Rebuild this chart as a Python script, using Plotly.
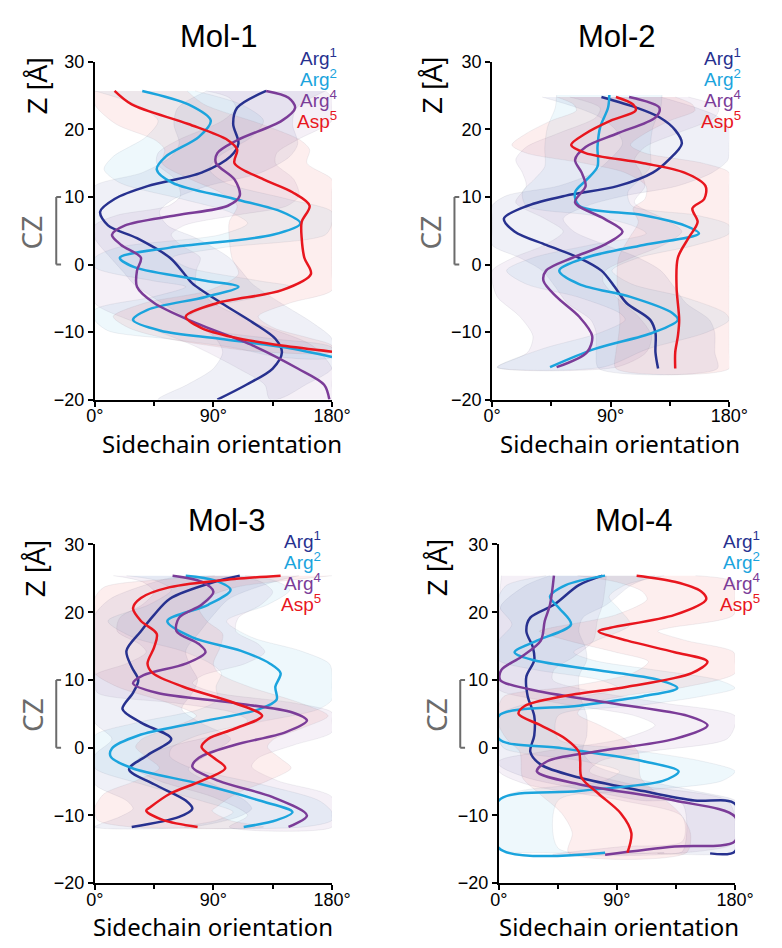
import plotly.graph_objects as go

W, H = 782, 948

NAMES = ["Arg<sup>1</sup>", "Arg<sup>2</sup>", "Arg<sup>4</sup>", "Asp<sup>5</sup>"]
COLORS = ["#27318f", "#1ba4dd", "#7b3c98", "#e8161e"]
BAND_RGB = ["39,49,143", "27,164,221", "123,60,152", "232,22,30"]
X_TICKS = [0, 90, 180]
X_TICKTEXT = ["0°", "90°", "180°"]
Y_TICKS = [-20, -10, 0, 10, 20, 30]
TITLES = ["Mol-1", "Mol-2", "Mol-3", "Mol-4"]

# ---------------- Mol-1 ----------------
M1_ARG1_Z = [25.7, 23.2, 20.8, 17.9, 16.0, 13.6, 11.6, 9.7, 7.8, 5.8, 3.9, 1.0, -1.4, -2.8, -5.7, -8.6, -11.0, -13.0, -15.4, -17.8, -20.0]
M1_ARG1_A = [130, 108, 105, 109, 103, 81, 40, 15, 4, 10, 32, 57, 68, 74, 96, 120, 137, 142, 135, 115, 93]
M1_ARG2_Z = [25.7, 23.7, 21.3, 18.9, 16.0, 14.1, 12.1, 9.7, 7.8, 6.1, 4.4, 2.5, 1.0, -0.4, -2.4, -3.3, -4.8, -6.7, -8.2, -9.8, -11.0, -12.3, -13.7]
M1_ARG2_A = [36, 71, 88, 79, 54, 47, 59, 106, 142, 156, 135, 57, 19, 30, 84, 109, 84, 40, 29, 50, 95, 145, 180]
M1_ARG4_Z = [25.7, 24.7, 23.2, 21.3, 18.4, 16.5, 15.0, 12.6, 10.2, 8.7, 7.3, 5.8, 4.4, 2.9, 1.0, -0.9, -3.3, -5.7, -8.6, -12.0, -15.4, -17.8, -20.0]
M1_ARG4_A = [130, 147, 152, 142, 108, 93, 92, 106, 110, 101, 62, 23, 13, 20, 35, 32, 32, 45, 76, 120, 154, 174, 178]
M1_ASP5_Z = [25.7, 23.7, 20.8, 18.4, 17.0, 15.0, 12.6, 10.7, 8.7, 6.3, 3.9, 1.0, -1.4, -3.8, -5.7, -7.7, -9.4, -10.8, -12.0, -12.9]
M1_ASP5_A = [15, 28, 71, 101, 108, 106, 128, 150, 163, 157, 157, 159, 164, 142, 93, 69, 81, 106, 142, 180]
M1_SD = [45, 40, 45, 55]

# ---------------- Mol-2 ----------------
M2_ARG1_Z = [24.8, 23.2, 21.8, 19.9, 17.9, 15.5, 13.6, 11.6, 10.2, 8.7, 6.8, 4.9, 2.9, 1.0, -0.9, -3.3, -5.7, -8.2, -10.1, -13.0, -15.4]
M2_ARG1_A = [83, 110, 127, 139, 144, 134, 122, 95, 56, 27, 9, 17, 41, 66, 83, 93, 102, 120, 124, 124, 126]
M2_ARG2_Z = [25.1, 23.2, 20.3, 17.4, 14.5, 12.6, 10.7, 8.7, 7.3, 5.8, 4.6, 2.9, 1.0, -0.9, -2.9, -4.8, -7.2, -8.2, -10.1, -12.5, -15.2]
M2_ARG2_A = [89, 88, 82, 80, 80, 72, 63, 66, 115, 146, 157, 115, 71, 51, 66, 105, 137, 141, 122, 78, 44]
M2_ARG4_Z = [24.8, 23.2, 21.8, 19.4, 17.4, 15.5, 13.6, 11.6, 9.2, 6.8, 4.9, 2.9, 1.0, -0.9, -2.4, -4.8, -7.7, -10.6, -13.0, -15.2]
M2_ARG4_A = [104, 127, 124, 95, 71, 63, 68, 71, 63, 85, 99, 85, 61, 41, 39, 49, 66, 76, 72, 49]
M2_ASP5_Z = [24.8, 23.7, 22.8, 21.3, 19.4, 17.7, 16.5, 15.0, 13.6, 11.6, 9.7, 8.3, 6.3, 3.9, 1.0, -3.3, -8.2, -10.6, -13.0, -15.4]
M2_ASP5_A = [94, 107, 109, 90, 71, 60, 71, 115, 146, 162, 161, 152, 156, 149, 141, 140, 142, 141, 139, 139]
M2_SD = [45, 40, 45, 45]

# ---------------- Mol-3 ----------------
M3_ARG1_Z = [25.4, 24.5, 22.0, 19.6, 17.2, 14.3, 11.9, 10.0, 8.1, 5.7, 3.7, 1.3, -1.1, -3.2, -5.4, -7.8, -9.0, -10.2, -11.7]
M3_ARG1_A = [110, 91, 57, 45, 35, 24, 28, 33, 29, 21, 35, 58, 40, 26, 45, 69, 74, 64, 28]
M3_ARG2_Z = [25.4, 24.7, 23.3, 21.1, 18.7, 16.3, 14.3, 12.4, 11.0, 9.0, 7.1, 5.7, 3.7, 1.8, -0.1, -1.3, -3.0, -5.4, -7.8, -9.5, -10.7, -11.7]
M3_ARG2_A = [69, 91, 103, 86, 55, 74, 111, 133, 141, 137, 138, 125, 77, 33, 13, 12, 28, 81, 125, 150, 138, 113]
M3_ARG4_Z = [25.4, 24.5, 23.0, 21.1, 19.2, 17.2, 15.3, 14.1, 12.4, 10.7, 9.5, 8.1, 6.6, 5.2, 4.0, 2.3, 0.4, -1.5, -2.8, -4.9, -7.3, -10.0, -11.7]
M3_ARG4_A = [59, 81, 90, 81, 64, 62, 79, 84, 69, 37, 29, 47, 106, 150, 161, 145, 106, 79, 74, 94, 135, 161, 147]
M3_ASP5_Z = [25.4, 24.9, 23.7, 22.1, 20.6, 18.7, 16.8, 14.8, 12.4, 11.0, 9.0, 6.6, 4.7, 2.8, 1.3, 0.1, -1.6, -3.0, -4.9, -6.8, -8.8, -9.3, -10.7, -11.7]
M3_ASP5_A = [141, 106, 57, 35, 29, 35, 47, 45, 40, 44, 67, 106, 127, 106, 86, 81, 91, 99, 81, 57, 42, 39, 52, 78]
M3_SD = [45, 45, 45, 50]

# ---------------- Mol-4 ----------------
M4_ARG1_Z = [25.4, 24.0, 21.1, 19.2, 17.2, 14.8, 12.9, 10.5, 7.6, 4.7, 1.8, -0.6, -2.5, -4.4, -6.4, -7.8, -8.3, -15.3, -15.6]
M4_ARG1_A = [79, 61, 42, 24, 21, 26, 27, 21, 22, 27, 27, 24, 32, 61, 110, 149, 180, 180, 161]
M4_ARG2_Z = [25.4, 24.0, 22.3, 20.6, 18.2, 15.8, 14.1, 12.9, 11.5, 10.0, 8.8, 7.6, 6.2, 4.7, 1.3, -0.1, -2.0, -3.5, -4.9, -6.4, -7.8, -14.8, -15.5]
M4_ARG2_A = [81, 51, 39, 46, 55, 29, 12, 27, 73, 122, 136, 110, 61, 0, 0, 49, 110, 137, 125, 61, 0, 0, 81]
M4_ARG4_Z = [25.4, 21.1, 18.7, 15.8, 13.4, 11.5, 10.0, 8.6, 6.6, 4.7, 3.3, 1.3, -0.6, -2.0, -3.5, -5.4, -7.8, -10.2, -13.8, -14.6, -15.8]
M4_ARG4_A = [42, 39, 35, 32, 17, 2, 1, 24, 85, 144, 159, 134, 73, 37, 29, 61, 134, 180, 180, 134, 81]
M4_ASP5_Z = [25.4, 24.5, 23.1, 21.9, 19.6, 17.7, 17.2, 15.8, 14.1, 12.7, 11.0, 9.0, 7.6, 6.2, 5.0, 3.3, 1.3, -0.6, -2.0, -4.4, -6.8, -9.7, -12.6, -15.5]
M4_ASP5_A = [105, 134, 154, 158, 134, 85, 76, 98, 134, 159, 147, 98, 49, 20, 15, 32, 51, 61, 62, 63, 76, 93, 101, 98]
M4_SD = [40, 45, 40, 45]

PANELS = [
    ([(M1_ARG1_A, M1_ARG1_Z), (M1_ARG2_A, M1_ARG2_Z), (M1_ARG4_A, M1_ARG4_Z), (M1_ASP5_A, M1_ASP5_Z)], M1_SD),
    ([(M2_ARG1_A, M2_ARG1_Z), (M2_ARG2_A, M2_ARG2_Z), (M2_ARG4_A, M2_ARG4_Z), (M2_ASP5_A, M2_ASP5_Z)], M2_SD),
    ([(M3_ARG1_A, M3_ARG1_Z), (M3_ARG2_A, M3_ARG2_Z), (M3_ARG4_A, M3_ARG4_Z), (M3_ASP5_A, M3_ASP5_Z)], M3_SD),
    ([(M4_ARG1_A, M4_ARG1_Z), (M4_ARG2_A, M4_ARG2_Z), (M4_ARG4_A, M4_ARG4_Z), (M4_ASP5_A, M4_ASP5_Z)], M4_SD),
]

# layout geometry in pixels: (x0, x1, ytop, ybottom)
BOXES = [(89, 335, 53, 398), (501, 747, 53, 398), (89, 335, 546, 892), (508, 753, 546, 892)]
TITLE_POS = [(218, 27), (631, 27), (226, 521), (648, 521)]
XTITLE_POS = [(221, 443), (634, 443), (212, 936), (633, 936)]
ZTITLE_POS = [(29, 77), (439, 77), (28, 570), (445, 570)]
CZ_POS = [(23, 227), (437, 227), (24, 720), (443, 720)]
BRACKET_X = [49, 462, 49, 468]
LEGEND_POS = [(342, 48), (761, 48), (326, 541), (781, 541)]


def px(x):
    return x / W


def py(y):
    return 1 - y / H


fig = go.Figure()
annotations = []
shapes = []
TICKFONT = dict(family="Liberation Sans, Arial", size=18, color="black")


def text_ann(text, pos, font, **kw):
    d = dict(text=text, x=px(pos[0]), y=py(pos[1]), xref="paper", yref="paper",
             xanchor="center", yanchor="middle", showarrow=False, font=font)
    d.update(kw)
    return d


for i, ((series, sds), box) in enumerate(zip(PANELS, BOXES)):
    xa = "x" if i == 0 else f"x{i+1}"
    ya = "y" if i == 0 else f"y{i+1}"
    # bands
    for (ang, z), sd, rgb in zip(series, sds, BAND_RGB):
        up = [min(180, a + sd) for a in ang]
        lo = [max(0, a - sd) for a in ang]
        fig.add_trace(go.Scatter(
            x=up + lo[::-1], y=z + z[::-1], xaxis=xa, yaxis=ya,
            mode="lines", fill="toself", fillcolor=f"rgba({rgb},0.075)",
            line=dict(width=0.6, color="rgba(120,120,140,0.18)", shape="spline", smoothing=0.8),
            hoverinfo="skip", showlegend=False))
    # lines
    for (ang, z), col in zip(series, COLORS):
        fig.add_trace(go.Scatter(
            x=ang, y=z, xaxis=xa, yaxis=ya, mode="lines",
            line=dict(color=col, width=2.5, shape="spline", smoothing=0.9),
            showlegend=False))

    x0, x1, yt, yb = box
    axx = dict(domain=[px(x0), px(x1)], range=[0, 180], anchor=ya,
               tickvals=X_TICKS, ticktext=X_TICKTEXT, showline=True, linecolor="black",
               linewidth=2, ticks="outside", ticklen=5, tickwidth=2, tickcolor="black",
               ticklabelstandoff=-6,
               showgrid=False, zeroline=False, tickfont=TICKFONT, fixedrange=True,
               minor=dict(tickvals=[45, 135], ticks="outside", ticklen=4, tickwidth=1.5, tickcolor="black"))
    axy = dict(domain=[py(yb), py(yt)], range=[-20, 30], anchor=xa,
               tickvals=Y_TICKS, showline=True, linecolor="black", linewidth=2,
               ticks="outside", ticklen=5, tickwidth=2, tickcolor="black",
               showgrid=False, zeroline=False, tickfont=TICKFONT, fixedrange=True)
    fig.update_layout(**{("xaxis" if i == 0 else f"xaxis{i+1}"): axx,
                         ("yaxis" if i == 0 else f"yaxis{i+1}"): axy})

    annotations.append(text_ann(TITLES[i], TITLE_POS[i],
                                dict(family="Liberation Sans, Arial", size=31, color="black")))
    annotations.append(text_ann("Sidechain orientation", XTITLE_POS[i],
                                dict(family="Noto Sans", size=24, color="black")))
    annotations.append(text_ann("Z [Å]", ZTITLE_POS[i],
                                dict(family="Liberation Sans, Arial", size=27, color="black"), textangle=-90))
    annotations.append(text_ann("CZ", CZ_POS[i],
                                dict(family="Noto Sans", size=28, color="#6b6b6b"), textangle=-90))
    lx, ly = LEGEND_POS[i]
    for k, (nm, col) in enumerate(zip(NAMES, COLORS)):
        annotations.append(text_ann(nm, (lx, ly + 21.5 * k),
                                    dict(family="Liberation Sans, Arial", size=19, color=col),
                                    xanchor="right"))
    bx = BRACKET_X[i]
    shapes.append(dict(type="line", xref="paper", yref=ya, x0=px(bx), x1=px(bx), y0=0, y1=10,
                       line=dict(color="#6b6b6b", width=2)))
    shapes.append(dict(type="line", xref="paper", yref=ya, x0=px(bx), x1=px(bx + 5), y0=10, y1=10,
                       line=dict(color="#6b6b6b", width=2)))
    shapes.append(dict(type="line", xref="paper", yref=ya, x0=px(bx), x1=px(bx + 5), y0=0, y1=0,
                       line=dict(color="#6b6b6b", width=2)))

fig.update_layout(width=W, height=H, margin=dict(l=0, r=0, t=0, b=0),
                  paper_bgcolor="white", plot_bgcolor="rgba(0,0,0,0)",
                  showlegend=False, annotations=annotations, shapes=shapes)
fig.write_html("out.html")
